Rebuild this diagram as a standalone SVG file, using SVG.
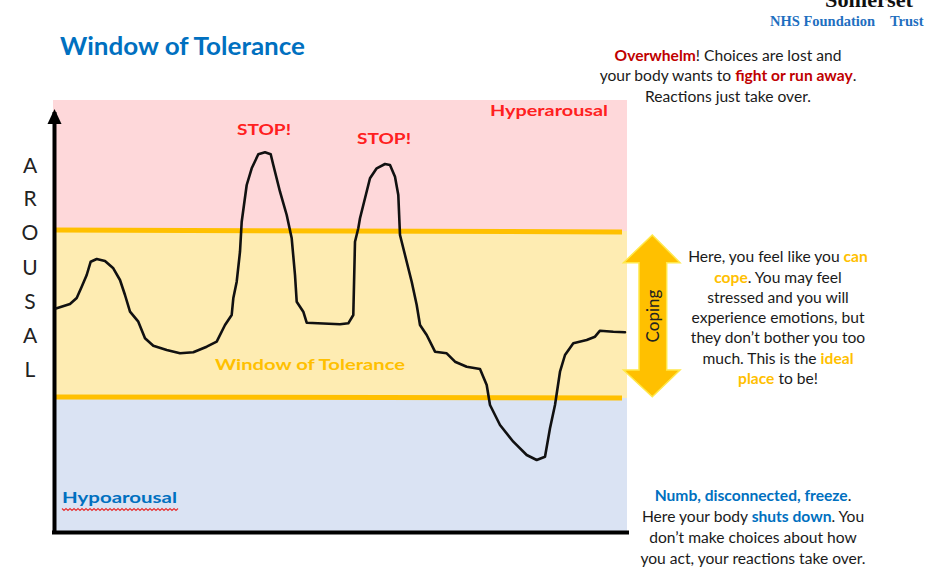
<svg xmlns="http://www.w3.org/2000/svg" width="928" height="583" viewBox="0 0 928 583">
<defs>
<style>
.sans{font-family:Lato,"Open Sans","Liberation Sans",sans-serif;}
.b{font-weight:bold;}
.body{font-family:Lato,"Open Sans","Liberation Sans",sans-serif;font-size:15.6px;fill:#1a1a1a;text-anchor:middle;}
.red{fill:#c00000;font-weight:bold;}
.gold{fill:#ffc000;font-weight:bold;}
.blue{fill:#0070c0;font-weight:bold;}
.band{stroke:#ffc000;stroke-width:5;fill:none;}
.axisl{font-family:Lato,"Open Sans","Liberation Sans",sans-serif;font-size:21px;fill:#222;text-anchor:middle;}
</style>
</defs>
<rect width="928" height="583" fill="#fff"/>
<g id="zones">
<rect x="53" y="100" width="574" height="131" fill="#fed8da"/>
<rect x="53" y="231" width="574" height="167" fill="#feecb2"/>
<rect x="53" y="398" width="574" height="133" fill="#dae3f3"/>
</g>
<g id="boundaries">
<line class="band" x1="55" y1="230" x2="622" y2="232"/>
<line class="band" x1="55" y1="397" x2="622" y2="398"/>
</g>
<g id="axes">
<line x1="54.5" y1="533" x2="54.5" y2="112" stroke="#000" stroke-width="4"/>
<path d="M47.5,124 L54.5,109 L61.5,124 Z" fill="#000"/>
<line x1="52" y1="532.5" x2="629" y2="532.5" stroke="#000" stroke-width="4"/>
</g>
<g id="axis-label" class="axisl">
<text x="30" y="173">A</text>
<text x="30" y="206">R</text>
<text x="30" y="240">O</text>
<text x="30" y="275">U</text>
<text x="30" y="309">S</text>
<text x="30" y="343">A</text>
<text x="30" y="377">L</text>
</g>
<g id="curve">
<polyline fill="none" stroke="#111" stroke-width="2.6" stroke-linejoin="round" stroke-linecap="round" points="56.7,308.3 70,304 76.7,298 81.7,286.7 86.7,275 90.7,261.7 96.7,259 105,261 113.3,268.3 120,280 125,295 130,311.7 138.3,321.7 145,338.3 153.3,345.7 166.7,350 180,353.3 193.3,352.3 206.7,346.7 216.7,341.7 225,325 231.7,315 233.3,298.3 236.7,281.7 240,251.7 241.7,221.7 246.7,185 251.7,168.3 258.3,154.3 265,152.3 270.7,154.3 273.3,165 280,191.7 286.7,215 291.7,238.3 295,275 296.7,301.7 303.3,311.7 306.7,322.7 340,324.3 348.3,323.3 353.3,315 355,241.7 358.3,228.3 360,218.3 365,198.3 370,178.3 376.7,168.3 385,164 390,165 395,176.7 398.3,195 400,235 405,255 411.7,281.7 416.7,305 420,325 426.7,335 435,351.7 446.7,353.3 455,361.7 466.7,366.7 480,369 486.7,385 490,405 500,425 513.3,441.7 526.7,455 536.7,460 545,456.7 550,428.3 555,405 560,371.7 565,355 573.3,343.3 586.7,340 595,336.7 600,330.7 613.3,331.7 625,332.3"/>
</g>
<g id="zone-labels" class="sans b" font-size="16">
<text x="490" y="116" fill="#ff2020" textLength="118" lengthAdjust="spacingAndGlyphs">Hyperarousal</text>
<text x="237" y="135" fill="#ff2020" textLength="54" lengthAdjust="spacingAndGlyphs">STOP!</text>
<text x="357" y="144" fill="#ff2020" textLength="54" lengthAdjust="spacingAndGlyphs">STOP!</text>
<text x="215" y="370" fill="#ffc000" textLength="190" lengthAdjust="spacingAndGlyphs">Window of Tolerance</text>
<text x="62" y="503" fill="#0070c0" textLength="115" lengthAdjust="spacingAndGlyphs">Hypoarousal</text>
<path d="M62,508.5 l2,2 l2,-2 l2,2 l2,-2 l2,2 l2,-2 l2,2 l2,-2 l2,2 l2,-2 l2,2 l2,-2 l2,2 l2,-2 l2,2 l2,-2 l2,2 l2,-2 l2,2 l2,-2 l2,2 l2,-2 l2,2 l2,-2 l2,2 l2,-2 l2,2 l2,-2 l2,2 l2,-2 l2,2 l2,-2 l2,2 l2,-2 l2,2 l2,-2 l2,2 l2,-2 l2,2 l2,-2 l2,2 l2,-2 l2,2 l2,-2 l2,2 l2,-2 l2,2 l2,-2 l2,2 l2,-2 l2,2 l2,-2 l2,2 l2,-2 l2,2 l2,-2 l2,2 l2,-2" fill="none" stroke="#e83030" stroke-width="1.2"/>
</g>
<g id="title">
<text class="sans b" x="60" y="55" font-size="24" fill="#0070c0" textLength="245" lengthAdjust="spacingAndGlyphs">Window of Tolerance</text>
</g>
<g id="logo" font-family="'Liberation Serif',serif" font-weight="bold">
<text x="825" y="7" font-size="22" fill="#111" textLength="88" lengthAdjust="spacingAndGlyphs">Somerset</text>
<text x="770" y="26" font-size="14.5" fill="#1f6fc0"><tspan>NHS Foundation</tspan><tspan x="890">Trust</tspan></text>
</g>
<g id="hyper-text" class="body">
<text x="728" y="60.5"><tspan class="red">Overwhelm</tspan>! Choices are lost and</text>
<text x="728" y="81">your body wants to <tspan class="red">fight or run away</tspan>.</text>
<text x="728" y="101.5">Reactions just take over.</text>
</g>
<g id="coping-arrow">
<path d="M652.3,235 L680,262.7 L666.7,262.7 L666.7,370 L680,370 L652.3,396.7 L623.5,370 L639,370 L639,262.7 L623.5,262.7 Z" fill="#ffc000" stroke="#ffe84a" stroke-width="1.5" stroke-linejoin="miter"/>
<text class="sans" x="0" y="0" font-size="17" fill="#222" text-anchor="middle" transform="translate(659,316) rotate(-90)">Coping</text>
</g>
<g id="window-text" class="body">
<text x="778" y="262">Here, you feel like you <tspan class="gold">can</tspan></text>
<text x="778" y="282.5"><tspan class="gold">cope</tspan>. You may feel</text>
<text x="778" y="302.5">stressed and you will</text>
<text x="778" y="323">experience emotions, but</text>
<text x="778" y="343">they don’t bother you too</text>
<text x="778" y="363.5">much. This is the <tspan class="gold">ideal</tspan></text>
<text x="778" y="384"><tspan class="gold">place</tspan> to be!</text>
</g>
<g id="hypo-text" class="body">
<text x="753" y="500.5"><tspan class="blue">Numb, disconnected, freeze</tspan>.</text>
<text x="753" y="521.5">Here your body <tspan class="blue">shuts down</tspan>. You</text>
<text x="753" y="542.5">don’t make choices about how</text>
<text x="753" y="563.5">you act, your reactions take over.</text>
</g>
</svg>
